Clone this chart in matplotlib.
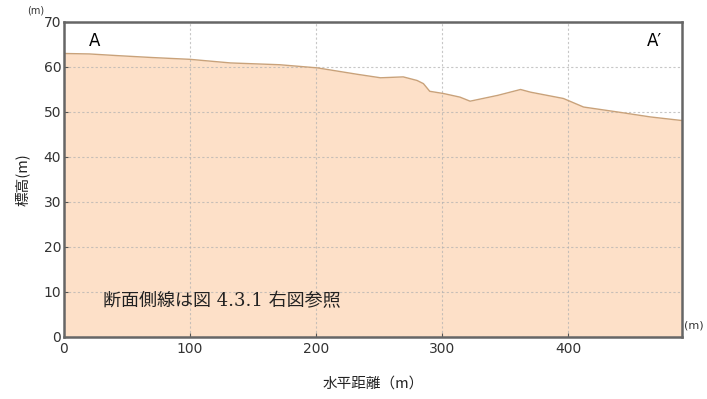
import matplotlib
matplotlib.use("Agg")
import matplotlib.pyplot as plt
import numpy as np

# Ground profile along section A–A'
distance = [0, 20, 44, 70, 100, 132, 171, 201, 232, 251, 269, 280, 285, 290,
            301, 314, 322, 344, 362, 370, 396, 412, 439, 465, 490]
elevation = [63.0, 62.9, 62.5, 62.1, 61.7, 60.9, 60.5, 59.8, 58.4, 57.6, 57.8,
             57.0, 56.3, 54.6, 54.1, 53.3, 52.4, 53.7, 55.0, 54.4, 53.0, 51.1,
             50.0, 48.9, 48.1]

x_ticks = [0, 100, 200, 300, 400]
y_ticks = [0, 10, 20, 30, 40, 50, 60, 70]
x_max = 490
y_max = 70

jp = ["Noto Sans CJK JP", "DejaVu Sans"]
jp_serif = ["DejaVu Serif", "Noto Sans CJK JP"]

fig = plt.figure(figsize=(7.07, 3.99), dpi=100)
ax = fig.add_axes([0.0905, 0.1554, 0.8741, 0.7895])

ax.fill_between(distance, elevation, 0, color="#fde0c8", lw=0, zorder=1)
ax.plot(distance, elevation, color="#c9a27a", lw=1.0, zorder=3)

ax.set_xlim(0, x_max)
ax.set_ylim(0, y_max)
ax.set_xticks(x_ticks)
ax.set_yticks(y_ticks)
ax.grid(True, color="#b0b0b0", linestyle=(0, (2, 2)), lw=0.8, alpha=0.7, zorder=2)
ax.set_axisbelow(False)
ax.tick_params(axis="both", labelsize=10, length=3, direction="in",
               color="#555555", labelcolor="#333333")
ax.tick_params(axis="y", pad=2)
for s in ax.spines.values():
    s.set_color("#666666")
    s.set_linewidth(1.8)
    s.set_zorder(4)

ax.set_xlabel("水平距離（m）", family=jp, fontsize=10.5, color="#222222", labelpad=15)
ax.set_ylabel("標高(m)", family=jp, fontsize=10.5, color="#222222", labelpad=10)

ax.text(0.05, 0.94, "A", transform=ax.transAxes, fontsize=12, ha="center", va="center",
        family="DejaVu Sans", zorder=5)
ax.text(0.955, 0.94, "A′", transform=ax.transAxes, fontsize=12, ha="center", va="center",
        family="DejaVu Sans", zorder=5)
ax.text(0.063, 0.115, "断面側線は図 4.3.1 右図参照", transform=ax.transAxes, fontsize=13,
        ha="left", va="center", family=jp_serif, color="#222222", zorder=5)
ax.text(-0.045, 1.035, "(m)", transform=ax.transAxes, fontsize=7, ha="center", va="center",
        color="#333333")
ax.text(1.004, 0.035, "(m)", transform=ax.transAxes, fontsize=8, ha="left", va="center",
        color="#333333")

fig.savefig("out.png", dpi=100)
